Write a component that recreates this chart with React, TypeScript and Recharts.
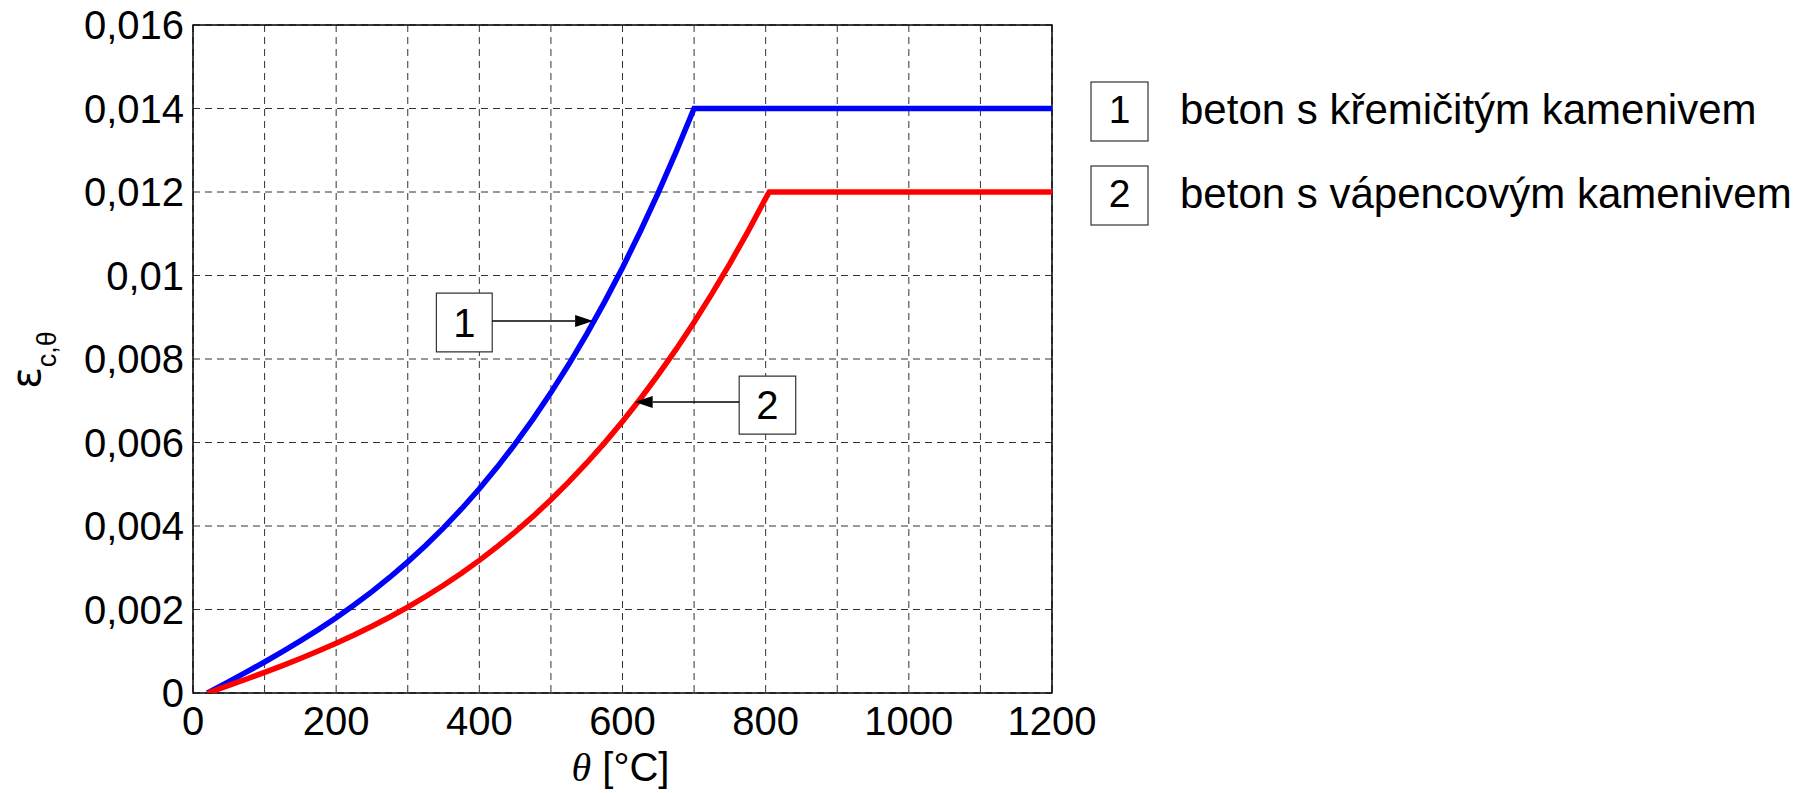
import React from 'react';
import {
  LineChart,
  Line,
  XAxis,
  YAxis,
  CartesianGrid,
  ReferenceArea,
  ReferenceLine,
} from 'recharts';

// Temperatures [°C] and thermal strains
const tempSil = [20, 25, 50, 75, 100, 125, 150, 175, 200, 225, 250, 275, 300, 325, 350, 375, 400, 425, 450, 475, 500, 525, 550, 575, 600, 625, 650, 675, 700, 1200];
const strainSil = [0, 0.000045, 0.000273, 0.000505, 0.000743, 0.00099, 0.001248, 0.001518, 0.001804, 0.002107, 0.002429, 0.002773, 0.003141, 0.003535, 0.003956, 0.004408, 0.004892, 0.005411, 0.005966, 0.00656, 0.007195, 0.007873, 0.008597, 0.009368, 0.010188, 0.01106, 0.011986, 0.012969, 0.014, 0.014];

const tempCal = [20, 25, 50, 75, 100, 125, 150, 175, 200, 225, 250, 275, 300, 325, 350, 375, 400, 425, 450, 475, 500, 525, 550, 575, 600, 625, 650, 675, 700, 725, 750, 775, 800, 805, 1200];
const strainCal = [0, 0.00003, 0.000182, 0.000336, 0.000494, 0.000657, 0.000827, 0.001005, 0.001192, 0.001389, 0.001599, 0.001821, 0.002058, 0.002311, 0.00258, 0.002868, 0.003176, 0.003505, 0.003856, 0.00423, 0.00463, 0.005056, 0.00551, 0.005992, 0.006504, 0.007048, 0.007625, 0.008236, 0.008882, 0.009565, 0.010286, 0.011047, 0.011848, 0.012, 0.012];

const xTicks = [0, 100, 200, 300, 400, 500, 600, 700, 800, 900, 1000, 1100, 1200];
const yTicks = [0, 0.002, 0.004, 0.006, 0.008, 0.01, 0.012, 0.014, 0.016];
const yTickLabels = ['0', '0,002', '0,004', '0,006', '0,008', '0,01', '0,012', '0,014', '0,016'];

const seriesNames = ['beton s křemičitým kamenivem', 'beton s vápencovým kamenivem'];
const seriesNums = ['1', '2'];

// annotation boxes (data units) and arrow targets
const box1 = { x1: 340, x2: 418, y1: 0.00817, y2: 0.00958 };
const arrow1 = { from: { x: 418, y: 0.00891 }, to: { x: 559, y: 0.00891 } };
const box2 = { x1: 763, x2: 842, y1: 0.0062, y2: 0.00759 };
const arrow2 = { from: { x: 763, y: 0.00697 }, to: { x: 617, y: 0.00697 } };

const silData = tempSil.map((t, i) => ({ t, v: strainSil[i] }));
const calData = tempCal.map((t, i) => ({ t, v: strainCal[i] }));

const FONT = '"Liberation Sans", Arial, sans-serif';

const Arrow = (p: any) => {
  const { x1, y1, x2, y2 } = p;
  const dx = x2 - x1;
  const dy = y2 - y1;
  const len = Math.sqrt(dx * dx + dy * dy) || 1;
  const ux = dx / len;
  const uy = dy / len;
  const hl = 18;
  const hw = 6;
  const bx = x2 - ux * hl;
  const by = y2 - uy * hl;
  const pts = `${x2},${y2} ${bx - uy * hw},${by + ux * hw} ${bx + uy * hw},${by - ux * hw}`;
  return (
    <g>
      <line x1={x1} y1={y1} x2={bx} y2={by} stroke="#000" strokeWidth={1.5} />
      <polygon points={pts} fill="#000" />
    </g>
  );
};

const XLabel = (props: any) => {
  const vb = props.viewBox || {};
  const cx = vb.x + vb.width / 2;
  const y = vb.y + 88;
  return (
    <text x={cx - 2} y={y} textAnchor="middle" fontSize={40} fill="#000" fontFamily={FONT}>
      <tspan fontFamily='"Liberation Serif", "Times New Roman", serif' fontStyle="italic">θ</tspan>
      <tspan>{'  [°C]'}</tspan>
    </text>
  );
};

const YLabel = () => {
  const cx = 40;
  const cy = 360;
  return (
    <text
      x={cx}
      y={cy}
      textAnchor="middle"
      transform={`rotate(-90, ${cx}, ${cy})`}
      fill="#000"
      fontFamily='"DejaVu Sans", sans-serif'
    >
      <tspan fontSize={40}>ε</tspan>
      <tspan fontSize={27} dy={16} fontFamily={FONT}>c,θ</tspan>
    </text>
  );
};

export default function App() {
  return (
    <div style={{ position: 'absolute', left: 0, top: 0, width: 1809, height: 793, fontFamily: FONT }}>
      <LineChart
        width={1809}
        height={793}
        margin={{ top: 25, right: 757, bottom: 0, left: 0 }}
      >
        <CartesianGrid stroke="#333" strokeDasharray="7 5" strokeWidth={1} />
        <XAxis
          dataKey="t"
          type="number"
          domain={[0, 1200]}
          ticks={xTicks}
          interval={0}
          allowDataOverflow
          height={100}
          axisLine={false}
          tickLine={false}
          tickSize={0}
          tickMargin={14}
          tick={{ fontSize: 40, fill: '#000', fontFamily: FONT }}
          tickFormatter={(v: number) => (v % 200 === 0 ? String(v) : '')}
          label={<XLabel />}
        />
        <YAxis
          type="number"
          domain={[0, 0.016]}
          ticks={yTicks}
          interval={0}
          allowDataOverflow
          width={193}
          axisLine={false}
          tickLine={false}
          tickSize={0}
          tickMargin={9}
          tick={{ fontSize: 40, fill: '#000', fontFamily: FONT }}
          tickFormatter={(v: number, i: number) => yTickLabels[i] ?? String(v)}
          label={<YLabel />}
        />
        <ReferenceArea x1={0} x2={1200} y1={0} y2={0.016} fill="none" stroke="#000" strokeWidth={1.5} />
        <Line
          data={silData}
          dataKey="v"
          type="linear"
          stroke="#0000ff"
          strokeWidth={5.5}
          dot={false}
          isAnimationActive={false}
        />
        <Line
          data={calData}
          dataKey="v"
          type="linear"
          stroke="#ff0000"
          strokeWidth={5.5}
          dot={false}
          isAnimationActive={false}
        />
        <ReferenceLine
          segment={[arrow1.from, arrow1.to]}
          shape={<Arrow />}
        />
        <ReferenceLine
          segment={[arrow2.from, arrow2.to]}
          shape={<Arrow />}
        />
        <ReferenceArea
          x1={box1.x1}
          x2={box1.x2}
          y1={box1.y1}
          y2={box1.y2}
          fill="#fff"
          fillOpacity={1}
          stroke="#333"
          strokeWidth={1.2}
          label={{ value: seriesNums[0], position: 'center', fontSize: 40, fill: '#000' }}
        />
        <ReferenceArea
          x1={box2.x1}
          x2={box2.x2}
          y1={box2.y1}
          y2={box2.y2}
          fill="#fff"
          fillOpacity={1}
          stroke="#333"
          strokeWidth={1.2}
          label={{ value: seriesNums[1], position: 'center', fontSize: 40, fill: '#000' }}
        />
      </LineChart>
      <svg
        width={1809}
        height={793}
        style={{ position: 'absolute', left: 0, top: 0, pointerEvents: 'none' }}
      >
        {seriesNames.map((name, i) => {
          const top = i === 0 ? 82 : 166;
          const baseline = i === 0 ? 124 : 208;
          return (
            <g key={name}>
              <rect x={1091} y={top} width={57} height={59} fill="#fff" stroke="#333" strokeWidth={1.2} />
              <text x={1119.5} y={baseline - 1} textAnchor="middle" fontSize={39} fill="#000" fontFamily={FONT}>
                {seriesNums[i]}
              </text>
              <text x={1180} y={baseline} fontSize={42} fill="#000" fontFamily={FONT}>
                {name}
              </text>
            </g>
          );
        })}
      </svg>
    </div>
  );
}
